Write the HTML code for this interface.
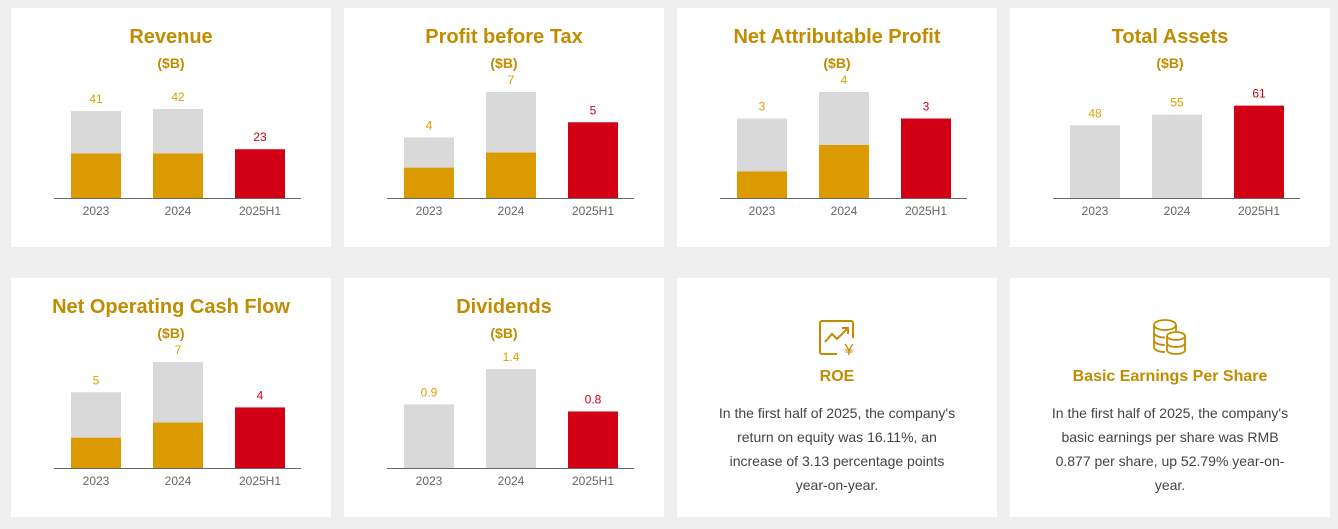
<!DOCTYPE html>
<html><head><meta charset="utf-8">
<style>
body{margin:0;width:1338px;height:529px;background:#efefef;font-family:"Liberation Sans",sans-serif;position:relative;overflow:hidden}
.card{position:absolute;width:320px;height:239px;background:#fff}
.card svg{position:absolute;left:0;top:0}
.tc{text-align:center}
.ttl{position:absolute;left:0;width:320px;text-align:center;color:#c18c00;font-weight:bold;font-size:16px}
.txt{position:absolute;left:35px;width:250px;text-align:center;color:#444;font-size:14px;line-height:24px}
.icon{position:absolute;left:140px}
</style></head><body>
<div class="card" style="left:11px;top:8px"><svg id="c0" width="320" height="239"></svg></div>
<div class="card" style="left:344px;top:8px"><svg id="c1" width="320" height="239"></svg></div>
<div class="card" style="left:677px;top:8px"><svg id="c2" width="320" height="239"></svg></div>
<div class="card" style="left:1010px;top:8px"><svg id="c3" width="320" height="239"></svg></div>
<div class="card" style="left:11px;top:278px"><svg id="c4" width="320" height="239"></svg></div>
<div class="card" style="left:344px;top:278px"><svg id="c5" width="320" height="239"></svg></div>
<div class="card" style="left:677px;top:278px">
  <svg class="icon" style="left:140px;top:40px" width="40" height="40" viewBox="0 0 40 40">
    <path d="M20 36 H5 a2 2 0 0 1-2-2 V5 a2 2 0 0 1 2-2 H34 a2 2 0 0 1 2 2 V20" fill="none" stroke="#c18c00" stroke-width="2"/>
    <polyline points="8,24 15,16 20,21 30,11" fill="none" stroke="#c18c00" stroke-width="2"/>
    <polyline points="25,10 31,10 31,16" fill="none" stroke="#c18c00" stroke-width="2"/>
    <text x="32" y="37" text-anchor="middle" font-size="16" fill="#c18c00" font-family="Liberation Sans,sans-serif">¥</text>
  </svg>
  <div class="ttl" style="top:90px">ROE</div>
  <div class="txt" style="top:123px">In the first half of 2025, the company's return on equity was 16.11%, an increase of 3.13 percentage points year-on-year.</div>
</div>
<div class="card" style="left:1010px;top:278px">
  <svg class="icon" style="left:142px;top:40px" width="36" height="38" viewBox="0 0 36 38">
    <g fill="none" stroke="#c18c00" stroke-width="1.8">
      <ellipse cx="13" cy="7" rx="11" ry="5"/>
      <path d="M2 7 V29 c0 3 5 5 11 5 M2 14.5 c0 3 5 5 11 5 M2 22 c0 3 5 5 11 5 M24 7 V13"/>
      <ellipse cx="24" cy="18" rx="9" ry="4"/>
      <path d="M15 18 V32 c0 2.5 4 4 9 4 s9-1.5 9-4 V18 M15 25 c0 2.5 4 4 9 4 s9-1.5 9-4"/>
    </g>
  </svg>
  <div class="ttl" style="top:90px">Basic Earnings Per Share</div>
  <div class="txt" style="top:123px">In the first half of 2025, the company's basic earnings per share was RMB 0.877 per share, up 52.79% year-on-year.</div>
</div>
<script>
const categories=["2023","2024","2025H1"];
const titles=["Revenue","Profit before Tax","Net Attributable Profit","Total Assets","Net Operating Cash Flow","Dividends"];
const totals=[[41,42,23],[4,7,5],[3,4,3],[48,55,61],[5,7,4],[0.9,1.4,0.8]];
const halfYear=[[21,21,null],[2,3,null],[1,2,null],[null,null,null],[2,3,null],[null,null,null]];
const valueLabels=[["41","42","23"],["4","7","5"],["3","4","3"],["48","55","61"],["5","7","4"],["0.9","1.4","0.8"]];
const axisMax=[50,7,4,70,7,1.5];
const names=["revenue","profit-before-tax","net-attributable-profit","total-assets","net-operating-cash-flow","dividends"];
const NS="http://www.w3.org/2000/svg";
function mk(svg,tag,attrs,txt){const e=document.createElementNS(NS,tag);for(const k in attrs)e.setAttribute(k,attrs[k]);if(txt!=null)e.textContent=txt;svg.appendChild(e);return e;}
const base=190,plotH=106,x0=43,x1=290;
for(let c=0;c<6;c++){
  const svg=document.getElementById("c"+c);
  const y=v=>base-v/axisMax[c]*plotH;
  const xc=i=>85+i*82;
  let t=mk(svg,"text",{x:160,y:35,"text-anchor":"middle","font-size":20,"font-weight":"bold",fill:"#c18c00"},titles[c]);
  
  
  t=mk(svg,"text",{x:160,y:60,"text-anchor":"middle","font-size":14,"font-weight":"bold",fill:"#c18c00"},"($B)");
  
  
  for(let i=0;i<3;i++){
    const last=i===2;
    const v=totals[c][i];
    const r=mk(svg,"rect",{x:xc(i)-25,y:y(v),width:50,height:base-y(v),fill:last?"#d10015":"#d9d9d9"});
    
    
    const h=halfYear[c][i];
    if(h!=null){
      const g=mk(svg,"rect",{x:xc(i)-25,y:y(h),width:50,height:base-y(h),fill:"#db9b00"});
      
      
    }
    const l=mk(svg,"text",{x:xc(i),y:y(v)-8,"text-anchor":"middle","font-size":12,fill:last?"#d10015":"#d9a000"},valueLabels[c][i]);
    
    
    const xl=mk(svg,"text",{x:xc(i),y:base+17,"text-anchor":"middle","font-size":12,fill:"#666"},categories[i]);
    
    
  }
  const ax=mk(svg,"line",{x1:x0,x2:x1,y1:base+0.5,y2:base+0.5,stroke:"#666","stroke-width":1});
  
  
}
</script>
</body></html>
